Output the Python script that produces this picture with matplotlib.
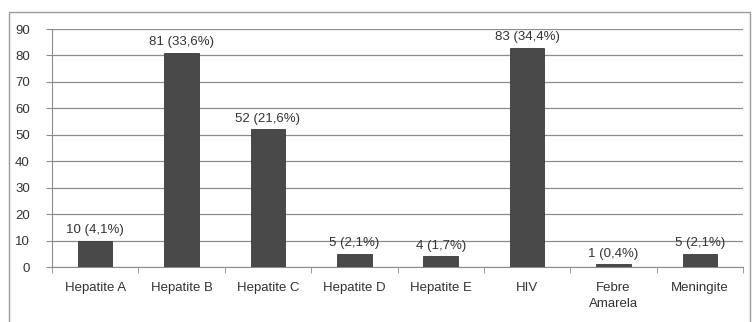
import matplotlib
matplotlib.use("Agg")
import matplotlib.pyplot as plt
from matplotlib.patches import Rectangle

categories = ["Hepatite A", "Hepatite B", "Hepatite C", "Hepatite D",
              "Hepatite E", "HIV", "Febre\nAmarela", "Meningite"]
counts = [10, 81, 52, 5, 4, 83, 1, 5]
percents = ["4,1", "33,6", "21,6", "2,1", "1,7", "34,4", "0,4", "2,1"]
y_ticks = list(range(0, 100, 10))

plt.rcParams["font.family"] = ["Liberation Sans", "DejaVu Sans"]

fig = plt.figure(figsize=(7.55, 3.22), dpi=100)

# outer chart frame
fig.patches.append(Rectangle((9 / 755, -0.05), 741 / 755, 1.05 - 12 / 322,
                             transform=fig.transFigure, fill=False,
                             edgecolor="#9a9a9a", linewidth=1.0))

ax = fig.add_axes([52 / 755, 1 - 267 / 322, 691 / 755, 238 / 322])

x = list(range(len(categories)))
ax.bar(x, counts, width=0.4, color="#494949", edgecolor="#3a3a3a",
       linewidth=0.6, zorder=3)

for xi, c, p in zip(x, counts, percents):
    ax.text(xi, c + 1.8, f"{c} ({p}%)", ha="center", va="bottom",
            fontsize=9.5, color="#333333")

ax.set_xlim(-0.5, len(categories) - 0.5)
ax.set_ylim(0, 90)
ax.set_yticks(y_ticks)
ax.yaxis.grid(True, color="#8c8c8c", linewidth=0.9, zorder=0)
ax.set_axisbelow(True)

ax.set_xticks(x)
ax.set_xticklabels(categories, fontsize=9.5, color="#333333",
                   linespacing=1.4)
ax.set_xticks([i - 0.5 for i in range(len(categories) + 1)], minor=True)
ax.tick_params(axis="x", which="major", length=0, pad=11)
ax.tick_params(axis="x", which="minor", length=4, color="#8c8c8c")
ax.tick_params(axis="y", length=4, color="#8c8c8c", labelsize=9.5,
               labelcolor="#333333", pad=12)

for side in ["top", "right"]:
    ax.spines[side].set_visible(False)
for side in ["left", "bottom"]:
    ax.spines[side].set_color("#8c8c8c")

fig.savefig("out.png", dpi=100)
